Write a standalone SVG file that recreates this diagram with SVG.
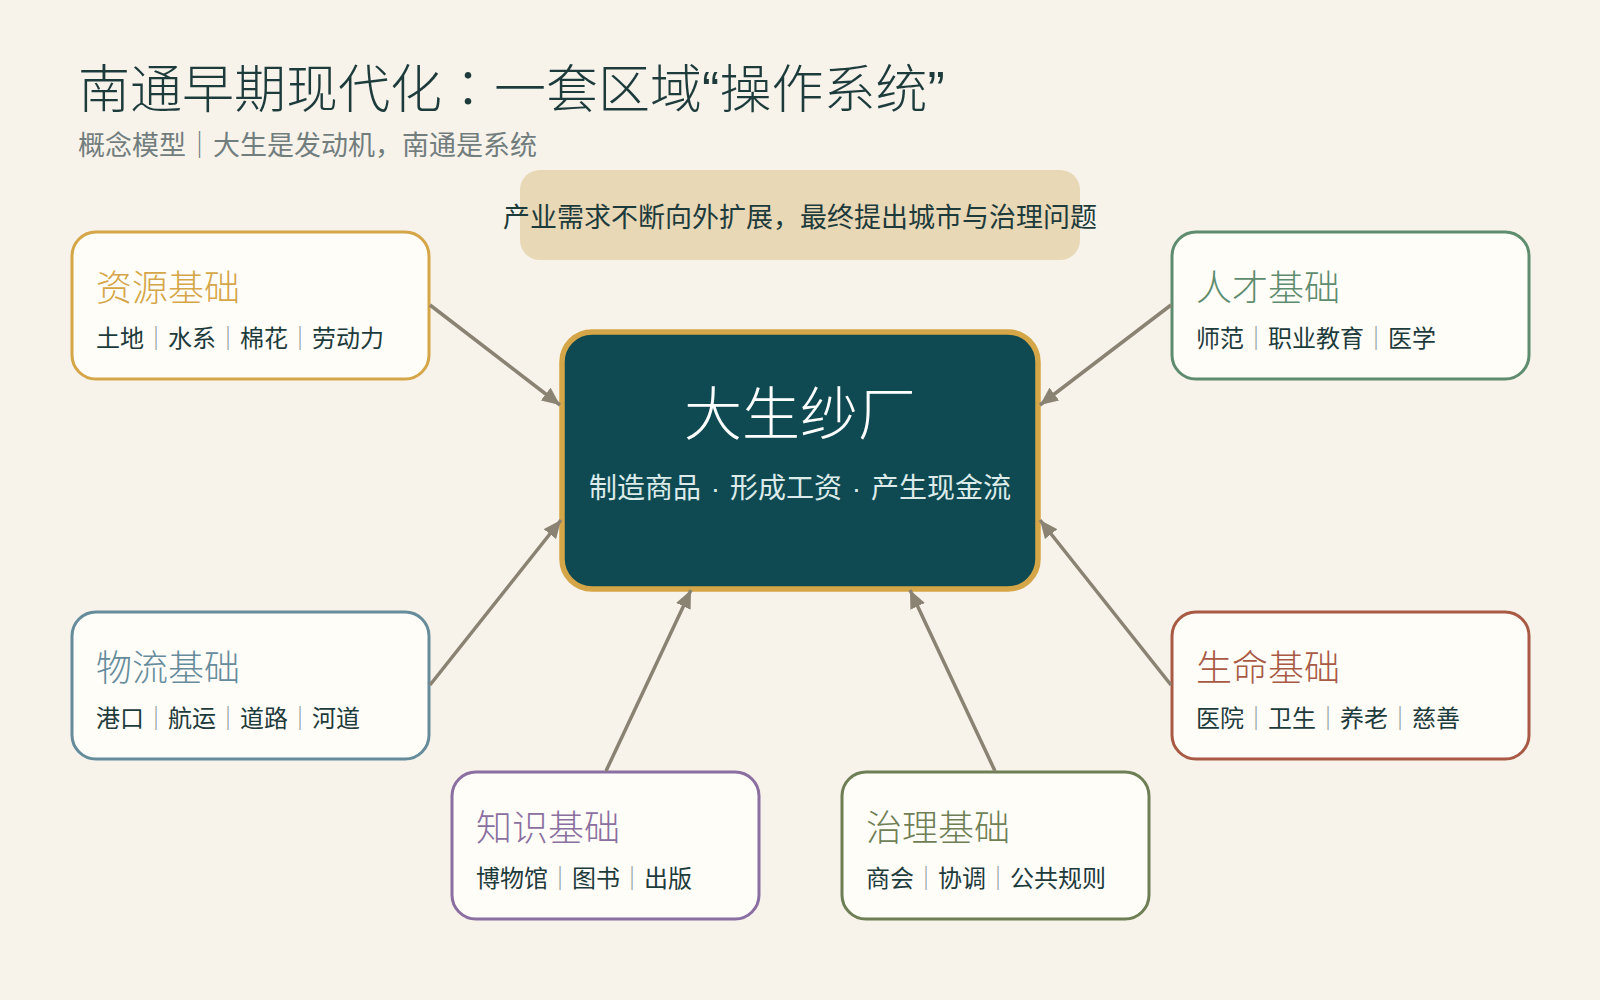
<svg xmlns="http://www.w3.org/2000/svg" width="1600" height="1000" viewBox="0 0 1600 1000">
<defs>
<style>
.bg{fill:#f7f3eb}
.t{font-family:"Noto Sans CJK SC","Liberation Sans",sans-serif}
.lat{font-family:"Liberation Sans",sans-serif}
.tc{font-family:"Noto Sans CJK TC",sans-serif}
.title{font-size:52px;fill:#1e3b3c;font-weight:300}
.sub{font-size:27px;fill:#727d7d}
.banner{fill:#e8d8b6}
.btxt{font-size:27px;fill:#1e3b3c}
.core{fill:#0f4a52;stroke:#d5a648;stroke-width:5.5}
.coreT{font-size:58px;fill:#ffffff;font-weight:300}
.coreS{font-size:28px;fill:#dcebea}
.node{fill:#fffdf8;stroke-width:3}
.nt{font-size:36px;font-weight:300}
.ni{font-size:24px;fill:#1e3b3c}
.sep{fill:#8c9a9c}
.conn{stroke:#8a8272;stroke-width:3.5;fill:none;marker-end:url(#arr)}
</style>
<marker id="arr" markerUnits="userSpaceOnUse" markerWidth="20" markerHeight="16" refX="18" refY="8" orient="auto">
<path d="M0,0 L18,8 L0,16 z" fill="#8a8272"/>
</marker>
</defs>
<rect class="bg" x="0" y="0" width="1600" height="1000"/>

<g id="header">
<text class="t title" x="78" y="108">南通早期现代化<tspan class="tc">：</tspan>一套区域<tspan class="lat">“</tspan>操作系统<tspan class="lat">”</tspan></text>
<text class="t sub" x="78" y="155">概念模型｜大生是发动机，南通是系统</text>
</g>

<g id="banner">
<rect class="banner" x="520" y="170" width="560" height="90" rx="20"/>
<text class="t btxt" x="800" y="227" text-anchor="middle">产业需求不断向外扩展，最终提出城市与治理问题</text>
</g>

<g id="core">
<rect class="core" x="562" y="332" width="476" height="257" rx="30"/>
<text class="t coreT" x="800" y="435" text-anchor="middle">大生纱厂</text>
<text class="t coreS" x="800" y="498" text-anchor="middle" word-spacing="2">制造商品<tspan class="lat"> · </tspan>形成工资<tspan class="lat"> · </tspan>产生现金流</text>
</g>

<g id="node-resource">
<rect class="node" x="72" y="232" width="357" height="147" rx="24" stroke="#d5a648"/>
<text class="t nt" x="96" y="301" fill="#d5a648">资源基础</text>
<text class="t ni" x="96" y="347">土地<tspan class="sep">｜</tspan>水系<tspan class="sep">｜</tspan>棉花<tspan class="sep">｜</tspan>劳动力</text>
</g>

<g id="node-talent">
<rect class="node" x="1172" y="232" width="357" height="147" rx="24" stroke="#5e8c6f"/>
<text class="t nt" x="1196" y="301" fill="#5e8c6f">人才基础</text>
<text class="t ni" x="1196" y="347">师范<tspan class="sep">｜</tspan>职业教育<tspan class="sep">｜</tspan>医学</text>
</g>

<g id="node-logistics">
<rect class="node" x="72" y="612" width="357" height="147" rx="24" stroke="#668c9c"/>
<text class="t nt" x="96" y="681" fill="#668c9c">物流基础</text>
<text class="t ni" x="96" y="727">港口<tspan class="sep">｜</tspan>航运<tspan class="sep">｜</tspan>道路<tspan class="sep">｜</tspan>河道</text>
</g>

<g id="node-life">
<rect class="node" x="1172" y="612" width="357" height="147" rx="24" stroke="#a85a45"/>
<text class="t nt" x="1196" y="681" fill="#a85a45">生命基础</text>
<text class="t ni" x="1196" y="727">医院<tspan class="sep">｜</tspan>卫生<tspan class="sep">｜</tspan>养老<tspan class="sep">｜</tspan>慈善</text>
</g>

<g id="node-knowledge">
<rect class="node" x="452" y="772" width="307" height="147" rx="24" stroke="#8a6fa0"/>
<text class="t nt" x="476" y="841" fill="#8a6fa0">知识基础</text>
<text class="t ni" x="476" y="887">博物馆<tspan class="sep">｜</tspan>图书<tspan class="sep">｜</tspan>出版</text>
</g>

<g id="node-governance">
<rect class="node" x="842" y="772" width="307" height="147" rx="24" stroke="#6e7f55"/>
<text class="t nt" x="866" y="841" fill="#6e7f55">治理基础</text>
<text class="t ni" x="866" y="887">商会<tspan class="sep">｜</tspan>协调<tspan class="sep">｜</tspan>公共规则</text>
</g>

<g id="connectors">
<path class="conn" d="M430,305 L560,405"/>
<path class="conn" d="M1171,305 L1040,405"/>
<path class="conn" d="M430,685 L561,520"/>
<path class="conn" d="M1171,685 L1040,520"/>
<path class="conn" d="M606,771 L691,590"/>
<path class="conn" d="M995,771 L910,590"/>
</g>
</svg>
